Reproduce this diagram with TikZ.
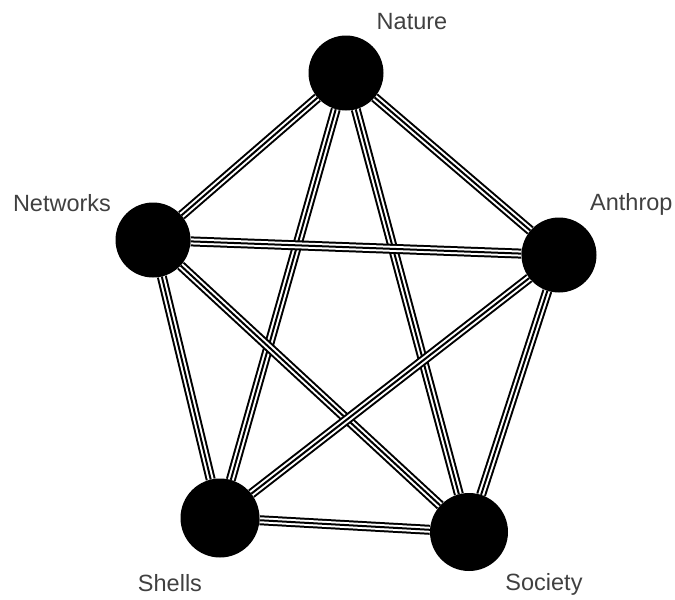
\documentclass[tikz,border=0pt]{standalone}
\usepackage{fontspec}
\setmainfont{Liberation Sans}
\usetikzlibrary{backgrounds}

\begin{document}
\begin{tikzpicture}[x=1pt,y=-1pt,
  sphere/.style={circle,fill=black,minimum size=75pt,inner sep=0pt},
  lbl/.style={text=black!75,font=\fontsize{23.5}{27}\selectfont,inner sep=0pt},
  band/.style={draw=black,line width=10pt,
    postaction={draw=white,line width=6pt},
    postaction={draw=black,line width=2pt}}]
  \useasboundingbox (0,0) rectangle (675,600);
  \node[sphere] (nat) at (346,73) {};
  \node[sphere] (net) at (153,240) {};
  \node[sphere] (ant) at (559,255) {};
  \node[sphere,minimum size=79pt] (she) at (220,518) {};
  \node[sphere,minimum size=78pt] (soc) at (469,532) {};
  \node[lbl] (natl) at (412,22) {Nature};
  \node[lbl] (netl) at (62,203) {Networks};
  \node[lbl,anchor=west] (antl) at (590,204) {Anthrop};
  \node[lbl] (shel) at (170,583) {Shells};
  \node[lbl] (socl) at (544,584) {Society};
  \begin{pgfonlayer}{background}
    \draw[band] (nat) -- (net); \draw[band] (nat) -- (ant);
    \draw[band] (nat) -- (she); \draw[band] (nat) -- (soc);
    \draw[band] (net) -- (ant); \draw[band] (net) -- (she);
    \draw[band] (net) -- (soc); \draw[band] (ant) -- (she);
    \draw[band] (ant) -- (soc); \draw[band] (she) -- (soc);
  \end{pgfonlayer}
\end{tikzpicture}
\end{document}
